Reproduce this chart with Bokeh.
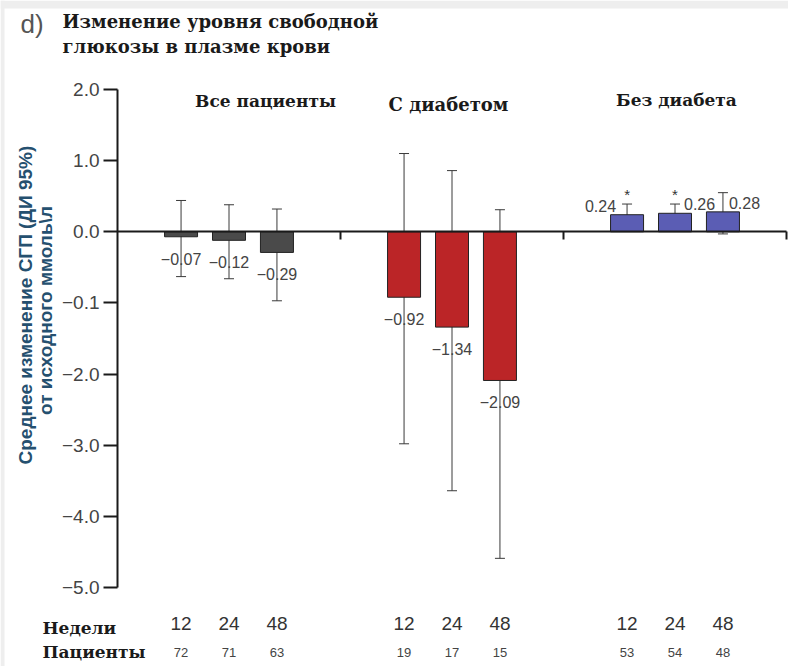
import math
from bokeh.plotting import figure
from bokeh.models import (Range1d, FixedTicker, Whisker, ColumnDataSource, Label,
                          LinearAxis, TeeHead)
from bokeh.core.properties import value
from bokeh.embed import file_html
from bokeh.resources import INLINE

# --- data -------------------------------------------------------------------
groups = ["Все пациенты", "С диабетом", "Без диабета"]
weeks = [12, 24, 48]
patients_all = [72, 71, 63]
patients_dm = [19, 17, 15]
patients_nodm = [53, 54, 48]
change_all = [-0.07, -0.12, -0.29]
change_dm = [-0.92, -1.34, -2.09]
change_nodm = [0.24, 0.26, 0.28]
lower_all = [-0.63, -0.66, -0.97]
upper_all = [0.44, 0.38, 0.32]
lower_dm = [-2.98, -3.64, -4.59]
upper_dm = [1.10, 0.86, 0.31]
lower_nodm = [0.06, 0.08, -0.03]
upper_nodm = [0.39, 0.39, 0.55]
significant_nodm = [True, True, False]
y_ticks = [2, 1, 0, -1, -2, -3, -4, -5]
y_tick_labels = ["2.0", "1.0", "0.0", "\u22120.1", "\u22122.0", "\u22123.0", "\u22124.0", "\u22125.0"]

# --- layout helpers ---------------------------------------------------------
W, H = 788, 666
LEFT = 117            # pixel column of the value axis
GROUP_PX = 223        # pixels per group on the x scale
Y_TOP_PX, Y_BOT_PX = 89, 587   # pixel rows of 2.0 and -5.0
PPU = (Y_BOT_PX - Y_TOP_PX) / 7.0


def px_x(px):
    return (px - LEFT) / GROUP_PX


def px_y(py):
    return 2.0 - (py - Y_TOP_PX) / PPU


SERIF = "DejaVu Serif"
SANS = "Liberation Sans"
INK = "#1a1a1a"
colors = ["#4a4a4a", "#bb2527", "#5b5db4"]
offsets = [-0.215, 0.0, 0.215]
bar_w = 33 / GROUP_PX
x_end = px_x(W)

p = figure(width=W, height=H, output_backend="svg", toolbar_location=None,
           x_range=Range1d(px_x(0), x_end), y_range=Range1d(px_y(H), px_y(0)),
           x_axis_location=None, y_axis_location=None,
           min_border_left=0, min_border_right=0, min_border_top=0, min_border_bottom=0)
p.outline_line_color = None
p.grid.visible = False
p.background_fill_color = "white"
p.border_fill_color = "white"

# light frame strips along the top and left edges
p.quad(left=px_x(0), right=x_end, top=px_y(0), bottom=px_y(8),
       fill_color="#eeeeee", line_color=None)
p.quad(left=px_x(0), right=px_x(4), top=px_y(0), bottom=px_y(H),
       fill_color="#eeeeee", line_color=None)

# value axis
ya = LinearAxis(fixed_location=0, ticker=FixedTicker(ticks=y_ticks),
                bounds=(min(y_ticks), max(y_ticks)))
ya.major_label_overrides = {t: s for t, s in zip(y_ticks, y_tick_labels)}
ya.axis_line_width = 2
ya.axis_line_color = INK
ya.major_tick_line_color = INK
ya.major_tick_line_width = 2
ya.major_tick_out = 14
ya.major_tick_in = 0
ya.minor_tick_line_color = None
ya.major_label_text_font = SANS
ya.major_label_text_font_size = "19px"
ya.major_label_text_color = "#444444"
ya.major_label_standoff = 4
p.add_layout(ya, "left")

# baseline at zero with group dividers
xa = LinearAxis(fixed_location=0, ticker=FixedTicker(ticks=[1, 2, 3]), bounds=(0, 3))
xa.major_label_overrides = {1: "", 2: "", 3: ""}
xa.axis_line_width = 2
xa.axis_line_color = INK
xa.major_tick_line_color = INK
xa.major_tick_line_width = 2
xa.major_tick_out = 8
xa.major_tick_in = 0
xa.minor_tick_line_color = None
xa.major_label_standoff = 0
p.add_layout(xa, "below")

changes = [change_all, change_dm, change_nodm]
lowers = [lower_all, lower_dm, lower_nodm]
uppers = [upper_all, upper_dm, upper_nodm]
patients = [patients_all, patients_dm, patients_nodm]


def fmt(v):
    return f"{v:.2f}".replace("-", "\u2212")


for g in range(3):
    xs = [g + 0.5 + o for o in offsets]
    src = ColumnDataSource(dict(x=xs, top=changes[g], lo=lowers[g], hi=uppers[g]))
    p.vbar(x="x", top="top", bottom=0, width=bar_w, source=src,
           fill_color=colors[g], line_color="#222222", line_width=1)
    p.add_layout(Whisker(base="x", lower="lo", upper="hi", source=src,
                         line_color="#3a3a3a", line_width=1,
                         upper_head=TeeHead(size=10, line_color="#3a3a3a", line_width=1),
                         lower_head=TeeHead(size=10, line_color="#3a3a3a", line_width=1)))

    # value labels
    if g < 2:
        ly = [v - 22 / PPU for v in changes[g]]
        p.text(x=xs, y=ly, text=[fmt(v) for v in changes[g]],
               text_font=value(SANS), text_font_size="16px", text_color="#444444",
               text_align="center", text_baseline="middle")
    else:
        dxs = [-11 / GROUP_PX, 9 / GROUP_PX, 6 / GROUP_PX]
        aligns = ["right", "left", "left"]
        for x, v, dx, al in zip(xs, changes[g], dxs, aligns):
            p.text(x=[x + dx], y=[v + 9 / PPU], text=[fmt(v)],
                   text_font=value(SANS), text_font_size="16px", text_color="#444444",
                   text_align=al, text_baseline="middle")
        sx = [x for x, s in zip(xs, significant_nodm) if s]
        sy = [u + 10 / PPU for u, s in zip(uppers[g], significant_nodm) if s]
        p.text(x=sx, y=sy, text=["*"] * len(sx), text_font=value(SANS),
               text_font_size="15px", text_color="#333333", text_align="center",
               text_baseline="middle")

    # week numbers and patient counts under each bar
    p.text(x=xs, y=[px_y(623)] * 3, text=[str(w) for w in weeks],
           text_font=value(SANS), text_font_size="19px", text_color="#333333",
           text_align="center", text_baseline="middle")
    p.text(x=xs, y=[px_y(652)] * 3, text=[str(n) for n in patients[g]],
           text_font=value(SANS), text_font_size="13px", text_color="#444444",
           text_align="center", text_baseline="middle")

# group headings
head_px = [(265, 100, "17px"), (448, 104, "18px"), (676, 99, "17px")]
for name, (hx, hy, fs) in zip(groups, head_px):
    p.add_layout(Label(x=px_x(hx), y=px_y(hy), text=name, text_font=SERIF,
                       text_font_style="bold", text_font_size=fs,
                       text_color=INK, text_align="center", text_baseline="middle"))

# row captions
for cap, cy in [("Недели", 627), ("Пациенты", 651)]:
    p.add_layout(Label(x=px_x(42), y=px_y(cy), text=cap, text_font=SERIF,
                       text_font_style="bold", text_font_size="17px", text_color=INK,
                       text_align="left", text_baseline="middle"))

# panel letter and title
p.add_layout(Label(x=px_x(20), y=px_y(23), text="d)", text_font=SANS,
                   text_font_size="26px", text_color="#555555",
                   text_align="left", text_baseline="middle"))
for line, ty in [("Изменение уровня свободной", 21), ("глюкозы в плазме крови", 46)]:
    p.add_layout(Label(x=px_x(62), y=px_y(ty), text=line, text_font=SERIF,
                       text_font_style="bold", text_font_size="18px", text_color=INK,
                       text_align="left", text_baseline="middle"))

# value axis caption (two rotated lines)
p.add_layout(Label(x=px_x(25), y=px_y(302), text="Среднее изменение СГП  (ДИ 95%)",
                   angle=math.pi / 2, text_font=SANS, text_font_style="bold",
                   text_font_size="19px", text_color="#25506f",
                   text_align="center", text_baseline="middle"))
p.add_layout(Label(x=px_x(45), y=px_y(310), text="от исходного ммоль\\л",
                   angle=math.pi / 2, text_font=SANS, text_font_style="bold",
                   text_font_size="19px", text_color="#25506f",
                   text_align="center", text_baseline="middle"))

open("out.html", "w").write(file_html(p, INLINE))
